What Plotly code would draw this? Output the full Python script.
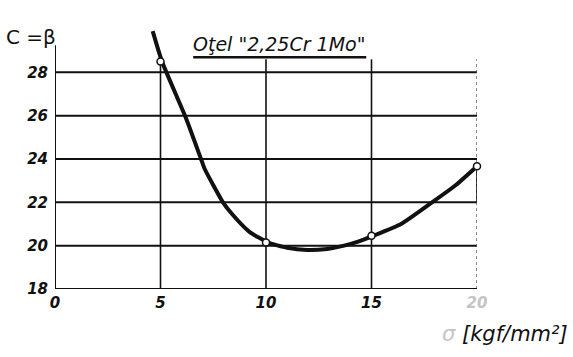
import plotly.graph_objects as go

# Measured points (circles) and the hand-drawn curve through them
sigma_pts = [5, 10, 15, 20]
c_pts = [28.5, 20.15, 20.46, 23.67]

curve_sigma = [4.63, 5.07, 6.2, 6.92, 7.09, 7.96, 8.4, 9.2, 10.08,
               11.0, 11.95, 12.9, 13.7, 14.4, 15.1, 16.4, 17.8, 19.0, 20.15]
curve_c = [29.9, 28.5, 25.9, 24.0, 23.55, 22.0, 21.45, 20.65, 20.15,
           19.9, 19.8, 19.85, 20.0, 20.2, 20.46, 21.0, 21.95, 22.8, 23.8]

x_ticks = [0, 5, 10, 15, 20]
x_ticktext = ["0", "5", "10", "15", "<span style='color:#c4c4c4'>20</span>"]
y_ticks = [18, 20, 22, 24, 26, 28]

INK = "#111111"

# plot-area placement in pixels (used to put the free text in paper coords)
L, R, T, B = 55, 96, 29, 68
W, H = 573, 357
PW, PH = W - L - R, H - T - B


def px(xp):
    return (xp - L) / PW


def py(yp):
    return (H - B - yp) / PH


fig = go.Figure()

fig.add_trace(go.Scatter(
    x=curve_sigma, y=curve_c, mode="lines",
    line=dict(color=INK, width=4, shape="spline", smoothing=0.5),
    cliponaxis=False, hoverinfo="skip", showlegend=False,
))
fig.add_trace(go.Scatter(
    x=sigma_pts, y=c_pts, mode="markers",
    marker=dict(size=7, color="white", line=dict(color=INK, width=1.5)),
    cliponaxis=False, showlegend=False,
))

shapes = []
# horizontal grid lines
for yv in y_ticks[1:]:
    shapes.append(dict(type="line", x0=0, x1=20, y0=yv, y1=yv,
                       line=dict(color=INK, width=2), layer="below"))
# vertical grid lines
for xv in [5, 10, 15]:
    shapes.append(dict(type="line", x0=xv, x1=xv, y0=18, y1=28.6,
                       line=dict(color=INK, width=1.6), layer="below"))
shapes.append(dict(type="line", x0=20, x1=20, y0=18, y1=28.6,
                   line=dict(color="#555555", width=1.4, dash="dot"), layer="below"))
shapes.append(dict(type="line", x0=20, x1=20, y0=22, y1=23.6,
                   line=dict(color=INK, width=1.6), layer="below"))
# axes
shapes.append(dict(type="line", x0=0, x1=0, y0=18, y1=29.25,
                   line=dict(color=INK, width=2)))
shapes.append(dict(type="line", x0=0, x1=20, y0=18, y1=18,
                   line=dict(color=INK, width=2.2)))
# title underline
shapes.append(dict(type="line", x0=6.55, x1=14.75, y0=28.7, y1=28.7,
                   line=dict(color=INK, width=2.5)))

annotations = [
    dict(x=10.6, y=29.3, text='Oţel "2,25Cr 1Mo"', showarrow=False,
         font=dict(family="DejaVu Sans", size=19, color=INK, style="italic")),
    dict(x=px(4), y=py(37), xref="paper", yref="paper", text="C =β",
         showarrow=False, xanchor="left", yanchor="middle",
         font=dict(family="DejaVu Sans", size=20, color=INK)),
    dict(x=px(505), y=py(334), xref="paper", yref="paper",
         text="<span style='color:#c4c4c4'>σ</span> [kgf/mm²]",
         showarrow=False, xanchor="center", yanchor="middle",
         font=dict(family="DejaVu Sans", size=21, color=INK, style="italic")),
]

fig.update_layout(
    width=W, height=H,
    margin=dict(l=L, r=R, t=T, b=B),
    paper_bgcolor="white", plot_bgcolor="white",
    shapes=shapes, annotations=annotations,
    xaxis=dict(range=[0, 20], tickvals=x_ticks, ticktext=x_ticktext,
               showgrid=False, zeroline=False, showline=False, ticks="",
               ticklabelstandoff=3,
               tickfont=dict(family="DejaVu Sans", size=15, color=INK,
                             weight="bold", style="italic")),
    yaxis=dict(range=[18, 30], tickvals=y_ticks,
               showgrid=False, zeroline=False, showline=False, ticks="",
               ticklabelstandoff=6,
               tickfont=dict(family="DejaVu Sans", size=15, color=INK,
                             weight="bold", style="italic")),
)

fig.write_html("out.html")
